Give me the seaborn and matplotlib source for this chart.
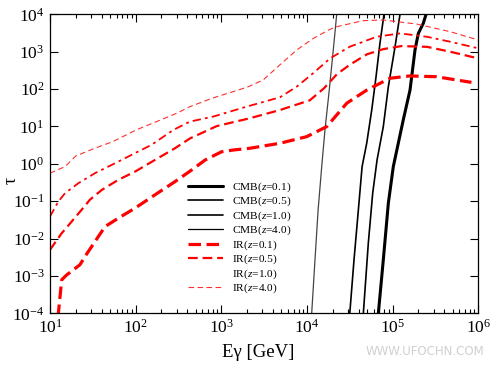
import numpy as np
import pandas as pd
import matplotlib
matplotlib.use('Agg')
import matplotlib.pyplot as plt
from matplotlib.lines import Line2D
from matplotlib.ticker import LogLocator, NullLocator, LogFormatterMathtext
import seaborn as sns

# ---------------- data ----------------
# CMB absorption curves: photon energy [GeV] and optical depth tau
cmb_z01_E = [68100, 77800, 89100, 101800, 116400, 133000, 159600, 182400, 199500, 228000, 245500]
cmb_z01_tau = [1e-4, 2.69e-3, 0.0885, 0.841, 3.55, 14.9, 94.4, 1110, 3090, 5750, 1e4]

cmb_z05_E = [45500, 52000, 58500, 65800, 77800, 89100, 106700, 121900]
cmb_z05_tau = [1e-4, 7.53e-3, 0.164, 1.27, 9.89, 116, 1360, 1e4]

cmb_z10_E = [31600, 35400, 39800, 44000, 49800, 57000, 64000, 71100, 79300]
cmb_z10_tau = [1e-4, 2.69e-3, 0.0585, 0.841, 3.55, 27.5, 214, 1680, 1e4]

cmb_z40_E = [11350, 12400, 13490, 14860, 16220, 18200, 20280, 22230]
cmb_z40_tau = [1e-4, 2.69e-3, 0.0585, 0.841, 8.05, 94.4, 1110, 1e4]

# IR background absorption curves
ir_z01_E = [12.4, 13.7, 15.7, 18.7, 22.4, 25.6, 33.5, 43.9, 62.7, 98.2, 168, 288, 452, 646,
            1000, 1380, 2160, 4840, 9930, 17000, 29100, 50100, 93300, 158000, 324000, 832000]
ir_z01_tau = [8e-5, 7.9e-4, 1.07e-3, 1.45e-3, 2.0e-3, 3.3e-3, 8.3e-3, 0.0209, 0.0351, 0.065,
              0.148, 0.334, 0.687, 1.26, 2.09, 2.34, 2.61, 3.55, 5.33, 9.89, 41.7, 94.6, 195,
              224, 214, 151]

ir_z05_E = [10, 13.7, 17.9, 23.4, 29.3, 40.2, 62.7, 98.2, 168, 288, 431, 883, 2160, 4840,
            10800, 15800, 22400, 31600, 50100, 77600, 126000, 251000, 468000, 1000000]
ir_z05_tau = [0.00501, 0.0139, 0.0285, 0.0589, 0.110, 0.200, 0.372, 0.617, 1.27, 2.61, 4.79,
              10.2, 16.6, 27.5, 50.1, 105, 251, 447, 851, 1170, 1410, 1350, 1000, 661]

ir_z10_E = [10, 12.5, 15.0, 21.4, 33.5, 52.5, 89.9, 154, 275, 431, 794, 1980, 4840, 7590,
            11750, 18600, 31600, 65200, 122000, 250000, 468000, 1000000]
ir_z10_tau = [0.0389, 0.0977, 0.164, 0.302, 0.562, 0.933, 1.74, 3.24, 8.05, 13.5, 18.2, 33.9,
              60.3, 116, 263, 661, 1360, 2510, 3090, 2510, 1850, 1230]

ir_z40_E = [10, 15.0, 20.0, 32.0, 54.8, 102, 176, 301, 431, 794, 2000, 3070, 4840, 7590,
            11750, 18600, 22200, 45100, 77100, 190500, 468000, 1000000]
ir_z40_tau = [0.562, 0.841, 1.62, 2.51, 3.98, 8.13, 13.5, 22.5, 33.9, 57.5, 112, 174, 447,
              1110, 2240, 3980, 4660, 6750, 7050, 5500, 3430, 2060]

legend_labels = ["CMB($z$=0.1)", "CMB($z$=0.5)", "CMB($z$=1.0)", "CMB($z$=4.0)",
                 "IR($z$=0.1)", "IR($z$=0.5)", "IR($z$=1.0)", "IR($z$=4.0)"]
x_label = "Eγ [GeV]"
y_label = "τ"

# ---------------- style ----------------
sns.set_style("ticks")
plt.rcParams['font.family'] = ['Liberation Serif', 'DejaVu Serif']
plt.rcParams['mathtext.fontset'] = 'custom'
plt.rcParams['mathtext.rm'] = 'Liberation Serif'
plt.rcParams['mathtext.it'] = 'Liberation Serif:italic'
plt.rcParams['mathtext.bf'] = 'Liberation Serif:bold'
plt.rcParams['lines.scale_dashes'] = False
plt.rcParams['text.color'] = 'black'
plt.rcParams['axes.labelcolor'] = 'black'
plt.rcParams['xtick.color'] = 'black'
plt.rcParams['ytick.color'] = 'black'
plt.rcParams['axes.edgecolor'] = 'black'

fig = plt.figure(figsize=(5, 3.65), dpi=100)
ax = fig.add_axes([0.1, 0.1416, 0.8566, 0.8192])
ax.set_xscale('log')
ax.set_yscale('log')

red = '#ff0000'
styles = [
    (cmb_z01_E, cmb_z01_tau, dict(color='black', lw=2.2, linestyle='-')),
    (cmb_z05_E, cmb_z05_tau, dict(color='black', lw=1.2, linestyle='-')),
    (cmb_z10_E, cmb_z10_tau, dict(color='black', lw=1.2, linestyle='-')),
    (cmb_z40_E, cmb_z40_tau, dict(color='#444444', lw=0.9, linestyle='-')),
    (ir_z01_E, ir_z01_tau, dict(color=red, lw=2.3, linestyle=(0, (9, 4)))),
    (ir_z05_E, ir_z05_tau, dict(color=red, lw=1.6, linestyle=(0, (7, 3.5)))),
    (ir_z10_E, ir_z10_tau, dict(color=red, lw=1.3, linestyle=(0, (6, 3, 2, 3)))),
    (ir_z40_E, ir_z40_tau, dict(color='#ff3030', lw=0.8, linestyle=(0, (4, 2.5)))),
]
for E, tau, kw in styles:
    sns.lineplot(x=E, y=tau, ax=ax, sort=False, estimator=None, legend=False, **kw)

ax.set_xlim(10, 1e6)
ax.set_ylim(1e-4, 1e4)

ax.xaxis.set_major_locator(LogLocator(base=10, numticks=10))
ax.xaxis.set_minor_locator(LogLocator(base=10, subs=np.arange(2, 10), numticks=20))
ax.yaxis.set_major_locator(LogLocator(base=10, numticks=12))
ax.yaxis.set_minor_locator(NullLocator())
ax.xaxis.set_major_formatter(LogFormatterMathtext())
ax.yaxis.set_major_formatter(LogFormatterMathtext())

ax.tick_params(which='both', direction='in', top=True, right=True, width=0.8)
ax.tick_params(which='major', length=5.8, labelsize=12.5, pad=4)
ax.tick_params(which='minor', length=3)
for s in ax.spines.values():
    s.set_linewidth(0.9)
    s.set_color('black')

ax.set_xlabel(x_label, fontsize=13.5)
ax.set_ylabel(y_label, fontsize=13)
ax.xaxis.set_label_coords(0.485, -0.102)
ax.yaxis.set_label_coords(-0.070, 0.446)

# legend
handles = []
for i, (E, tau, kw) in enumerate(styles):
    h = Line2D([], [], color=kw['color'] if i != 3 else 'black', lw=kw['lw'],
               linestyle=kw['linestyle'])
    if i == 6:
        h = Line2D([], [], linestyle='none')
    handles.append(h)
ax.legend(handles, legend_labels, loc='upper left', bbox_to_anchor=(0.322, 0.445),
          frameon=False, fontsize=8.2, handlelength=3.1, handletextpad=0.8,
          labelspacing=0.09, borderpad=0, borderaxespad=0)

fig.text(0.85, 0.036, 'WWW.UFOCHN.COM', color='#d0d0d0', fontsize=8.5,
         ha='center', va='center', family='DejaVu Sans')

fig.savefig('out.png', dpi=100)
